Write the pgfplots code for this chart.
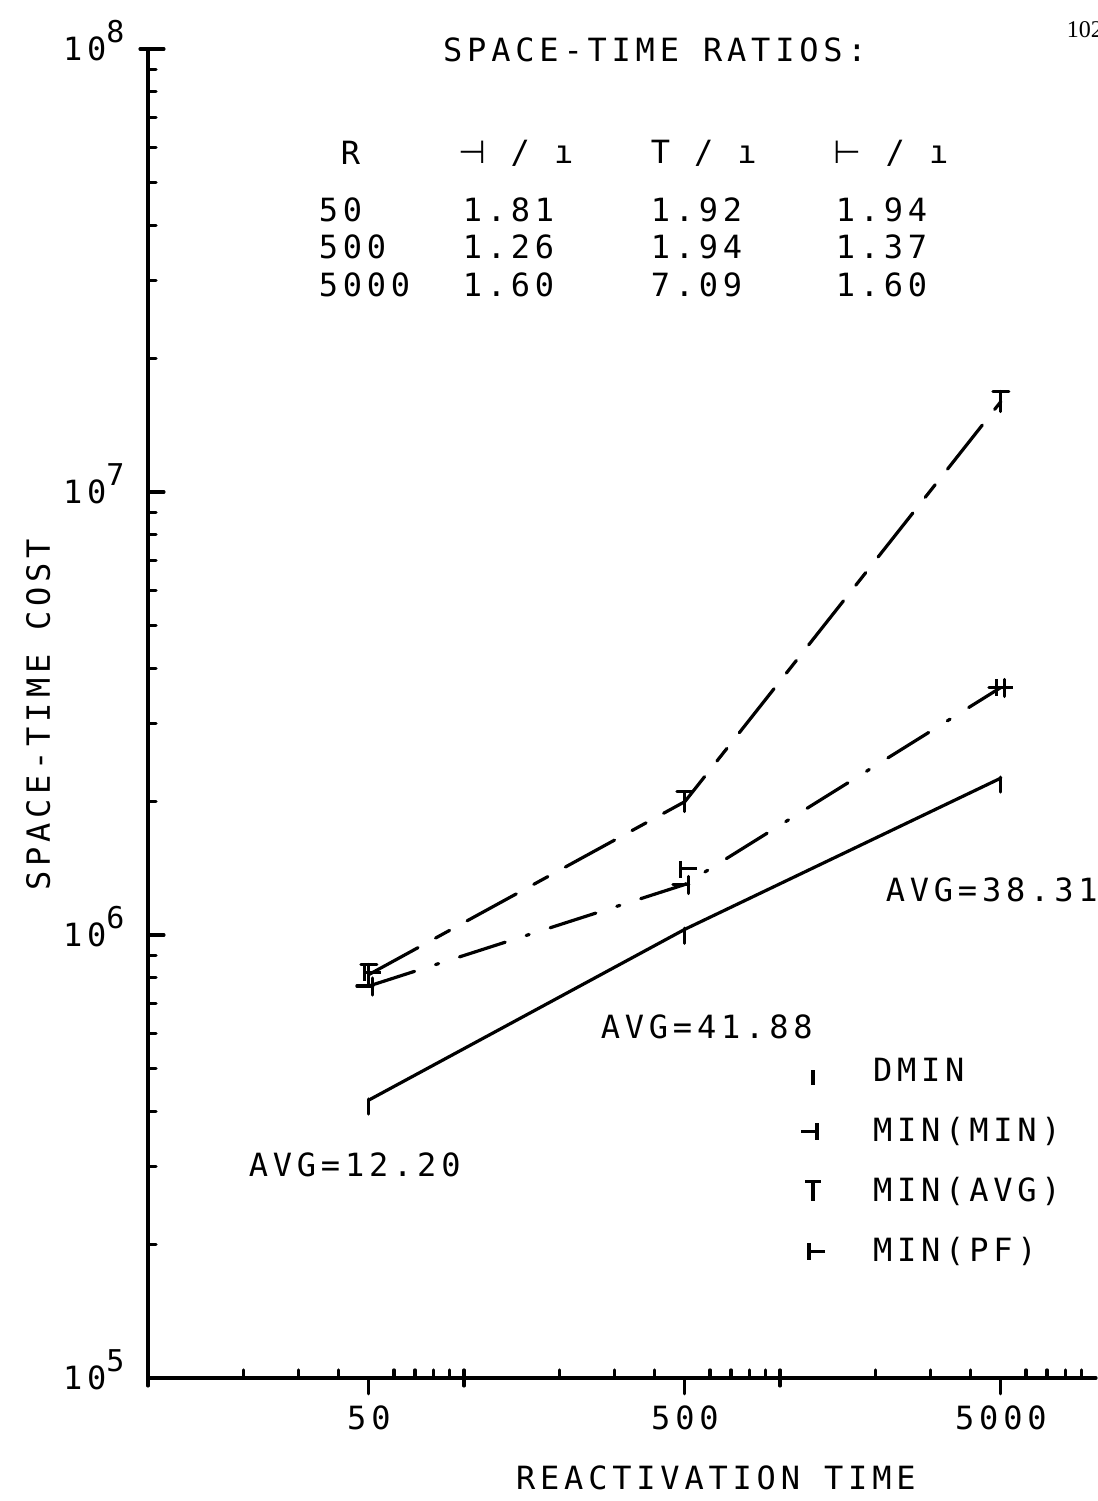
\documentclass[border=0pt]{standalone}
\usepackage{pgfplots}
\pgfplotsset{compat=1.18}
\usepackage{fontspec}
\setmainfont{DejaVu Sans Mono}[LetterSpace=15]
\newfontfamily\symfont{DejaVu Sans}
\newfontfamily\pagefont{Liberation Serif}

\pgfdeclareplotmark{dmin}{%
  \pgfpathmoveto{\pgfqpoint{0pt}{0.1\pgfplotmarksize}}%
  \pgfpathlineto{\pgfqpoint{0pt}{-1.4\pgfplotmarksize}}%
  \pgfusepathqstroke}
\pgfdeclareplotmark{minmin}{%
  \pgfpathmoveto{\pgfqpoint{-1.2\pgfplotmarksize}{0pt}}%
  \pgfpathlineto{\pgfqpoint{0.4\pgfplotmarksize}{0pt}}%
  \pgfpathmoveto{\pgfqpoint{0.4\pgfplotmarksize}{0.8\pgfplotmarksize}}%
  \pgfpathlineto{\pgfqpoint{0.4\pgfplotmarksize}{-0.9\pgfplotmarksize}}%
  \pgfusepathqstroke}
\pgfdeclareplotmark{minavg}{%
  \pgfpathmoveto{\pgfqpoint{-0.8\pgfplotmarksize}{\pgfplotmarksize}}%
  \pgfpathlineto{\pgfqpoint{0.8\pgfplotmarksize}{\pgfplotmarksize}}%
  \pgfpathmoveto{\pgfqpoint{0pt}{\pgfplotmarksize}}%
  \pgfpathlineto{\pgfqpoint{0pt}{-\pgfplotmarksize}}%
  \pgfusepathqstroke}
\pgfdeclareplotmark{minpf}{%
  \pgfpathmoveto{\pgfqpoint{1.2\pgfplotmarksize}{0pt}}%
  \pgfpathlineto{\pgfqpoint{-0.4\pgfplotmarksize}{0pt}}%
  \pgfpathmoveto{\pgfqpoint{-0.4\pgfplotmarksize}{0.8\pgfplotmarksize}}%
  \pgfpathlineto{\pgfqpoint{-0.4\pgfplotmarksize}{-0.9\pgfplotmarksize}}%
  \pgfusepathqstroke}

\newcommand{\PX}[2]{({#1*0.25},{(1501-#2)*0.25})}

\begin{document}
\fontsize{8}{9.6}\selectfont
\begin{tikzpicture}[x=1pt,y=1pt, txt/.style={inner sep=0pt, anchor=west}]
\begin{axis}[
  scale only axis, width=237pt, height=332.25pt,
  at={(37pt,30.75pt)}, anchor=south west,
  xmode=log, ymode=log,
  xmin=10, xmax=10000, ymin=1e5, ymax=1e8,
  axis lines=left,
  axis line style={-, line width=0.8pt, line cap=round},
  tick style={black, line width=0.8pt, line cap=round},
  xtick align=outside, ytick align=inside,
  major tick length=4pt, minor tick length=2pt,
  xtick={50,500,5000}, xticklabels={50,500,5000},
  minor xtick={20,30,40,60,70,80,90,200,300,400,600,700,800,900,2000,3000,4000,6000,7000,8000,9000},
  minor x tick style={yshift=2pt},
  extra x ticks={10,100,1000}, extra x tick labels={},
  extra x tick style={xtick align=center},
  ytick={1e5,1e6,1e7,1e8},
  yticklabels={10\raisebox{4.5pt}{\fontsize{7.5}{7.5}\selectfont 5},10\raisebox{4.5pt}{\fontsize{7.5}{7.5}\selectfont 6},10\raisebox{4.5pt}{\fontsize{7.5}{7.5}\selectfont 7},10\raisebox{4.5pt}{\fontsize{7.5}{7.5}\selectfont 8}},
  yticklabel style={anchor=base east, yshift=-2.9pt, xshift=-3pt},
  minor ytick={2e5,3e5,4e5,5e5,6e5,7e5,8e5,9e5,2e6,3e6,4e6,5e6,6e6,7e6,8e6,9e6,2e7,3e7,4e7,5e7,6e7,7e7,8e7,9e7},
  extra y ticks={1e8}, extra y tick labels={}, extra y tick style={ytick align=center},
  xlabel={REACTIVATION TIME},
  xlabel style={at={(axis description cs:0.599,-0.075)}, anchor=center},
  ylabel={SPACE-TIME COST},
  ylabel style={at={(axis description cs:-0.1158,0.499)}, anchor=center},
  clip=false,
  legend cell align=left,
  legend style={at={(axis description cs:0.688,0.245)}, anchor=north west, draw=none, fill=none,
    row sep=6pt, column sep=11pt, inner sep=0pt,
    nodes={inner sep=1pt, text height=6pt, text depth=1pt}},
]
\addplot[forget plot, black, line width=0.8pt, line cap=round, mark=dmin, mark size=2.5pt]
  coordinates {(50,4.24e5) (500,1.03e6) (5000,2.26e6)};
\addplot[forget plot, black, line width=0.8pt, line cap=round, dash pattern=on 12pt off 5.5pt on 0.8pt off 5.5pt, mark=minmin, mark size=2.5pt, mark options={solid}]
  coordinates {(50,7.67e5) (500,1.30e6) (5000,3.62e6)};
\addplot[forget plot, black, line width=0.8pt, line cap=round, dash pattern=on 14pt off 5pt on 4pt off 5pt, mark=minavg, mark size=2.5pt, mark options={solid}]
  coordinates {(50,8.14e5) (500,2.0e6) (5000,1.60e7)};
\addplot[forget plot, black, only marks, line width=0.8pt, mark=minpf, mark size=2.5pt]
  coordinates {(50,8.23e5) (500,1.41e6) (5000,3.62e6)};
\addlegendimage{black, only marks, line width=0.8pt, mark=dmin, mark size=2.5pt}
\addlegendentry{DMIN}
\addlegendimage{black, only marks, line width=0.8pt, mark=minmin, mark size=2.5pt}
\addlegendentry{MIN(MIN)}
\addlegendimage{black, only marks, line width=0.8pt, mark=minavg, mark size=2.5pt}
\addlegendentry{MIN(AVG)}
\addlegendimage{black, only marks, line width=0.8pt, mark=minpf, mark size=2.5pt}
\addlegendentry{MIN(PF)}
\end{axis}
\node[inner sep=0pt] at \PX{655}{50} {SPACE-TIME RATIOS:};
\node[txt] at \PX{340}{153} {R};
\node[txt] at \PX{458}{153} {{\symfont ⊣} / ı};
\node[txt] at \PX{650}{153} {T / ı};
\node[txt] at \PX{833}{153} {{\symfont ⊢} / ı};
\node[txt] at \PX{318}{210} {50};
\node[txt] at \PX{318}{247} {500};
\node[txt] at \PX{318}{285} {5000};
\node[txt] at \PX{462}{210} {1.81};
\node[txt] at \PX{462}{247} {1.26};
\node[txt] at \PX{462}{285} {1.60};
\node[txt] at \PX{650}{210} {1.92};
\node[txt] at \PX{650}{247} {1.94};
\node[txt] at \PX{650}{285} {7.09};
\node[txt] at \PX{835}{210} {1.94};
\node[txt] at \PX{835}{247} {1.37};
\node[txt] at \PX{835}{285} {1.60};
\node[txt] at \PX{248}{1165} {AVG=12.20};
\node[txt] at \PX{600}{1027} {AVG=41.88};
\node[txt] at \PX{885}{890} {AVG=38.31};
\node[txt, font=\pagefont\fontsize{6}{7}\selectfont] at \PX{1066}{30} {102};
\pgfresetboundingbox
\useasboundingbox (0,0) rectangle (274.5,375.25);
\end{tikzpicture}
\end{document}
